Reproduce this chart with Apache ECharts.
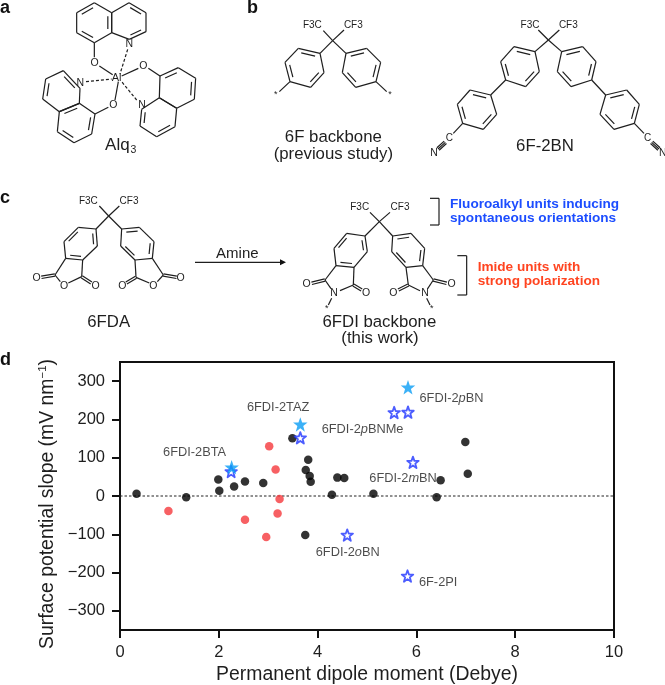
<!DOCTYPE html>
<html><head><meta charset="utf-8">
<style>html,body{margin:0;padding:0;background:#fff}#c{width:665px;height:685px}</style>
<script src="https://cdn.jsdelivr.net/npm/echarts@6/dist/echarts.min.js"></script>
</head><body><div id="c"></div>
<script>
// ---- chart values
const xTicks = [0,2,4,6,8,10];
const yTicks = [-300,-200,-100,0,100,200,300];
const xName = 'Permanent dipole moment (Debye)';
const otherDipole = [0.335,1.34,1.99,2.01,2.31,2.53,2.90,3.49,3.81,3.76,3.84,3.86,4.40,4.54,4.29,5.13,6.41,6.49,6.99,7.04,3.75];
const otherSlope  = [6,-3.5,43,14,25,38,34,151,94.5,68,52,37,48,47,3,6,-3.5,41,141,58,-102];
const redDipole = [0.98,2.53,2.96,3.02,3.15,3.23,3.19];
const redSlope  = [-39,-62,-107,130,69,-8,-46];
const hollowDipole = [2.25,3.65,5.55,5.83,5.93,4.60,5.82];
const hollowSlope  = [64,152,218,219,88,-102,-209];
const filledDipole = [2.26,3.65,5.83];
const filledSlope  = [75,187,284];
const noteNames = ['6FDI-2TAZ','6FDI-2BTA','6FDI-2{i|p}BN','6FDI-2{i|p}BNMe','6FDI-2{i|m}BN','6FDI-2{i|o}BN','6F-2PI'];
const noteX = [3.2,1.51,6.71,4.91,5.73,4.61,6.44];
const noteY = [231.5,114,254,174,45,-147,-227];
const pairs = (a,b)=>a.map((v,i)=>[v,b[i]]);

// ---- schematic drawing helpers (chemical structures above the plot)
const g = [];
const INK = '#1e1e1e';
function seg(ox,oy,x1,y1,x2,y2,dash,w){
  g.push({type:'line',silent:true,shape:{x1:ox+x1/3,y1:oy+y1/3,x2:ox+x2/3,y2:oy+y2/3},
    style:{stroke:INK,lineWidth:w||1.2,lineDash:dash?[3,2]:null}});
}
function ring(ox,oy,p,dbl){
  const cx=p.reduce((s,q)=>s+q[0],0)/p.length, cy=p.reduce((s,q)=>s+q[1],0)/p.length;
  p.forEach((q,i)=>{const r=p[(i+1)%p.length]; seg(ox,oy,q[0],q[1],r[0],r[1]);
    if(dbl.includes(i)){
      const f=0.78;
      const a=[cx+(q[0]-cx)*f,cy+(q[1]-cy)*f], b=[cx+(r[0]-cx)*f,cy+(r[1]-cy)*f];
      const mx=(a[0]+b[0])/2,my=(a[1]+b[1])/2,s=0.82;
      seg(ox,oy,mx+(a[0]-mx)*s,my+(a[1]-my)*s,mx+(b[0]-mx)*s,my+(b[1]-my)*s);
    }});
}
function txt(ox,oy,x,y,s,size,opt){
  opt=opt||{};
  g.push({type:'text',silent:true,x:ox+x/3,y:oy+y/3,style:{text:s,fill:opt.fill||INK,align:opt.align||'center',verticalAlign:'middle',
    font:(opt.weight||'normal')+' '+size+'px "Liberation Sans", Arial, sans-serif'}});
}
function dblBond(ox,oy,x1,y1,x2,y2){
  const dx=x2-x1,dy=y2-y1,l=Math.hypot(dx,dy),nx=-dy/l*3.5,ny=dx/l*3.5;
  seg(ox,oy,x1+nx,y1+ny,x2+nx,y2+ny); seg(ox,oy,x1-nx,y1-ny,x2-nx,y2-ny);
}
function triBond(ox,oy,x1,y1,x2,y2){
  const dx=x2-x1,dy=y2-y1,l=Math.hypot(dx,dy),nx=-dy/l*5,ny=dx/l*5;
  seg(ox,oy,x1,y1,x2,y2); seg(ox,oy,x1+nx,y1+ny,x2+nx,y2+ny); seg(ox,oy,x1-nx,y1-ny,x2-nx,y2-ny);
}
// panel letters
[['a',0,8],['b',247,8],['c',0,198],['d',0,360]].forEach(l=>txt(0,0,l[1]*3,l[2]*3,l[0],18,{weight:'bold',align:'left',fill:'#111'}));

// a: Alq3
ring(0,0,[[283,8],[335,38],[335,98],[283,128],[230,98],[230,38]],[1,3,5]);
ring(0,0,[[335,38],[387,8],[438,38],[438,95],[388,118],[335,98]],[1,3]);
seg(0,0,283,128,283,172); seg(0,0,298,198,338,224);
seg(0,0,383,148,360,222,true);
txt(0,0,388,131,'N',10.5); txt(0,0,284,188,'O',10.5); txt(0,0,350,233,'Al',11);
seg(0,0,365,228,415,205); seg(0,0,445,205,480,228);
txt(0,0,430,199,'O',10.5);
ring(0,0,[[480,228],[535,203],[587,235],[583,298],[530,325],[478,293]],[0,2]);
ring(0,0,[[478,293],[530,325],[525,380],[470,410],[420,378],[425,328]],[2,4]);
seg(0,0,410,300,365,245,true);
txt(0,0,426,315,'N',10.5);
seg(0,0,258,245,335,237,true);
txt(0,0,241,249,'N',10.5); txt(0,0,340,315,'O',10.5);
seg(0,0,345,300,355,245); seg(0,0,325,322,285,342);
ring(0,0,[[238,310],[285,342],[275,402],[222,428],[172,395],[178,335]],[1,3,5]);
ring(0,0,[[178,335],[238,310],[240,265],[190,212],[137,237],[128,297]],[2,4]);
txt(0,0,352,437,'Alq',17); txt(0,0,400,450,'3',10.5);

// b: 6F backbone
const bx=240;
txt(bx,0,217,76,'F3C',10); txt(bx,0,340,76,'CF3',10);
seg(bx,0,278,122,250,92); seg(bx,0,278,122,312,90); seg(bx,0,278,122,240,160); seg(bx,0,278,122,318,160);
ring(bx,0,[[240,160],[175,145],[135,187],[150,245],[212,262],[252,218]],[0,2,4]);
ring(bx,0,[[318,160],[380,145],[422,187],[408,245],[347,262],[307,218]],[0,2,4]);
seg(bx,0,150,245,118,275); seg(bx,0,408,245,440,275);
txt(bx,0,107,283,'*',9); txt(bx,0,450,283,'*',9);
txt(bx,0,280,412,'6F backbone',16.8); txt(bx,0,280,463,'(previous study)',16.8);
// b: 6F-2BN
txt(bx,0,870,76,'F3C',10); txt(bx,0,985,76,'CF3',10);
seg(bx,0,925,120,895,90); seg(bx,0,925,120,958,90); seg(bx,0,925,120,885,155); seg(bx,0,925,120,965,155);
ring(bx,0,[[885,155],[822,140],[782,185],[797,240],[857,260],[898,215]],[0,2,4]);
ring(bx,0,[[965,155],[1028,140],[1068,185],[1055,240],[993,260],[952,215]],[0,2,4]);
seg(bx,0,797,240,752,285); seg(bx,0,1055,240,1097,285);
ring(bx,0,[[752,285],[690,270],[652,313],[668,370],[730,388],[770,343]],[0,2,4]);
ring(bx,0,[[1097,285],[1160,270],[1198,313],[1183,370],[1122,388],[1080,343]],[0,2,4]);
seg(bx,0,668,370,640,400); seg(bx,0,1183,370,1212,400);
txt(bx,0,628,415,'C',10); txt(bx,0,1223,415,'C',10);
txt(bx,0,582,458,'N',10.5); txt(bx,0,1268,458,'N',10.5);
triBond(bx,0,616,427,594,447); triBond(bx,0,1235,427,1257,447);
txt(bx,0,915,440,'6F-2BN',16.8);

// c: 6FDA
const cy=180;
txt(0,cy,265,63,'F3C',10); txt(0,cy,387,63,'CF3',10);
seg(0,cy,326,108,298,78); seg(0,cy,326,108,358,78); seg(0,cy,326,108,288,147); seg(0,cy,326,108,365,147);
ring(0,cy,[[288,147],[235,142],[192,185],[197,235],[248,240],[292,198]],[1,3,5]);
ring(0,cy,[[365,147],[418,142],[462,185],[457,235],[405,240],[362,198]],[0,2,4]);
seg(0,cy,197,235,165,285); seg(0,cy,248,240,245,290); seg(0,cy,165,285,181,305); seg(0,cy,245,290,205,309);
dblBond(0,cy,165,285,124,292); dblBond(0,cy,245,290,274,309);
txt(0,cy,110,293,'O',10.5); txt(0,cy,287,319,'O',10.5); txt(0,cy,192,319,'O',10.5);
seg(0,cy,457,235,490,285); seg(0,cy,405,240,408,292); seg(0,cy,490,285,472,305); seg(0,cy,408,292,448,309);
dblBond(0,cy,490,285,530,292); dblBond(0,cy,408,292,379,309);
txt(0,cy,542,293,'O',10.5); txt(0,cy,367,319,'O',10.5); txt(0,cy,460,319,'O',10.5);
txt(0,cy,326,428,'6FDA',16.8);
seg(0,cy,585,247,845,247);
g.push({type:'polygon',silent:true,shape:{points:[[280,cy+238/3],[286,cy+247/3],[280,cy+256/3]]},style:{fill:'#111'}});
txt(0,cy,712,222,'Amine',15);

// c: 6FDI
const dx=330;
txt(dx,cy,89,83,'F3C',10); txt(dx,cy,210,83,'CF3',10);
seg(dx,cy,148,125,120,97); seg(dx,cy,148,125,180,97); seg(dx,cy,148,125,105,168); seg(dx,cy,148,125,188,168);
ring(dx,cy,[[105,168],[50,160],[12,205],[18,257],[72,262],[112,215]],[1,3,5]);
ring(dx,cy,[[188,168],[243,160],[284,205],[278,257],[228,262],[185,215]],[0,2,4]);
seg(dx,cy,278,257,310,300); seg(dx,cy,228,262,235,315); seg(dx,cy,310,300,293,326); seg(dx,cy,235,315,270,332);
dblBond(dx,cy,310,300,350,310); dblBond(dx,cy,235,315,205,330);
txt(dx,cy,365,313,'O',10.5); txt(dx,cy,190,338,'O',10.5); txt(dx,cy,285,340,'N',10.5);
seg(dx,cy,290,355,300,375); txt(dx,cy,305,387,'*',9);
seg(dx,cy,18,257,-15,300); seg(dx,cy,72,262,70,315); seg(dx,cy,-15,300,3,326); seg(dx,cy,70,315,30,332);
dblBond(dx,cy,-15,300,-55,310); dblBond(dx,cy,70,315,95,330);
txt(dx,cy,-70,313,'O',10.5); txt(dx,cy,108,338,'O',10.5); txt(dx,cy,12,340,'N',10.5);
seg(dx,cy,5,355,-5,375); txt(dx,cy,-10,387,'*',9);
txt(dx,cy,148,428,'6FDI backbone',16.8); txt(dx,cy,150,475,'(this work)',16.8);
[[300,55,327,55],[327,55,327,135],[327,135,300,135],[382,227,410,227],[410,227,410,345],[410,345,382,345]].forEach(s=>seg(dx,cy,s[0],s[1],s[2],s[3],false,1.2));
const BLUE='#1c4dff', ORANGE='#ff4420';
txt(dx,cy,360,73,'Fluoroalkyl units inducing',13.6,{weight:'bold',align:'left',fill:BLUE});
txt(dx,cy,360,115,'spontaneous orientations',13.6,{weight:'bold',align:'left',fill:BLUE});
txt(dx,cy,443,262,'Imide units with',13.6,{weight:'bold',align:'left',fill:ORANGE});
txt(dx,cy,443,303,'strong polarization',13.6,{weight:'bold',align:'left',fill:ORANGE});

// ---- plot
const STAR='path://M12 0L14.9 8.3L23.4 8.3L16.6 13.7L19.1 22.3L12 17.2L4.9 22.3L7.4 13.7L0.6 8.3L9.1 8.3Z';
const FONT='"Liberation Sans", Arial, sans-serif';
const chart=echarts.init(document.getElementById('c'),null,{renderer:'canvas'});
chart.setOption({
  animation:false,backgroundColor:'#fff',
  grid:{left:120,right:51,top:362,bottom:55,show:true,borderColor:'#111',borderWidth:2,backgroundColor:'transparent'},
  xAxis:{type:'value',min:0,max:10,interval:2,name:xName,nameLocation:'middle',nameGap:35,
    nameTextStyle:{fontFamily:FONT,fontSize:19.4,color:'#1e1e1e'},
    axisLine:{show:true,onZero:false,lineStyle:{color:'#111',width:2}},
    axisTick:{show:true,length:8,lineStyle:{color:'#111',width:2},customValues:xTicks},
    axisLabel:{show:true,margin:14,fontFamily:FONT,fontSize:16.5,color:'#1e1e1e',customValues:xTicks,hideOverlap:false},
    splitLine:{show:false}},
  yAxis:{type:'value',min:-350,max:350,
    name:'Surface potential slope (mV nm{sup|−1}{n|)}',nameLocation:'middle',nameGap:58,
    nameTextStyle:{fontFamily:FONT,fontSize:19.4,color:'#1e1e1e',padding:[0,16,0,0],rich:{
      sup:{fontFamily:FONT,fontSize:11.5,color:'#1e1e1e',verticalAlign:'top',lineHeight:21},
      n:{fontFamily:FONT,fontSize:19.4,color:'#1e1e1e'}}},
    axisLine:{show:true,onZero:false,lineStyle:{color:'#111',width:2}},
    axisTick:{show:true,length:8,lineStyle:{color:'#111',width:2},customValues:yTicks},
    axisLabel:{show:true,margin:15,fontFamily:FONT,fontSize:16.5,color:'#1e1e1e',customValues:yTicks,
      formatter:v=>String(v).replace('-','−')},
    splitLine:{show:false}},
  graphic:g,
  series:[
    {type:'line',name:'zero',data:[[0,0],[10,0]],symbol:'none',silent:true,z:1,
      lineStyle:{color:'#222',width:1,type:[2.5,2]}},
    {type:'scatter',name:'other',data:pairs(otherDipole,otherSlope),symbol:'circle',symbolSize:8.5,z:3,itemStyle:{color:'#000'}},
    {type:'scatter',name:'red',data:pairs(redDipole,redSlope),symbol:'circle',symbolSize:8.5,z:3,itemStyle:{color:'#f5383c'}},
    {type:'scatter',name:'hollow',data:pairs(hollowDipole,hollowSlope),symbol:STAR,symbolSize:11.5,z:4,
      itemStyle:{color:'#fff',borderColor:'#1f35ff',borderWidth:1.8,borderJoin:'round'}},
    {type:'scatter',name:'filled',data:pairs(filledDipole,filledSlope),symbol:STAR,symbolSize:14.5,z:5,itemStyle:{color:'#0a9df5'}},
    {type:'scatter',name:'notes',symbolSize:0,silent:true,z:6,
      data:noteNames.map((n,i)=>({name:n,value:[noteX[i],noteY[i]]})),
      label:{show:true,position:'inside',formatter:p=>p.name,fontFamily:FONT,fontSize:12.8,color:'#1e1e1e',
        rich:{i:{fontFamily:FONT,fontSize:12.8,fontStyle:'italic',color:'#1e1e1e'}}}}
  ]
});
</script></body></html>
